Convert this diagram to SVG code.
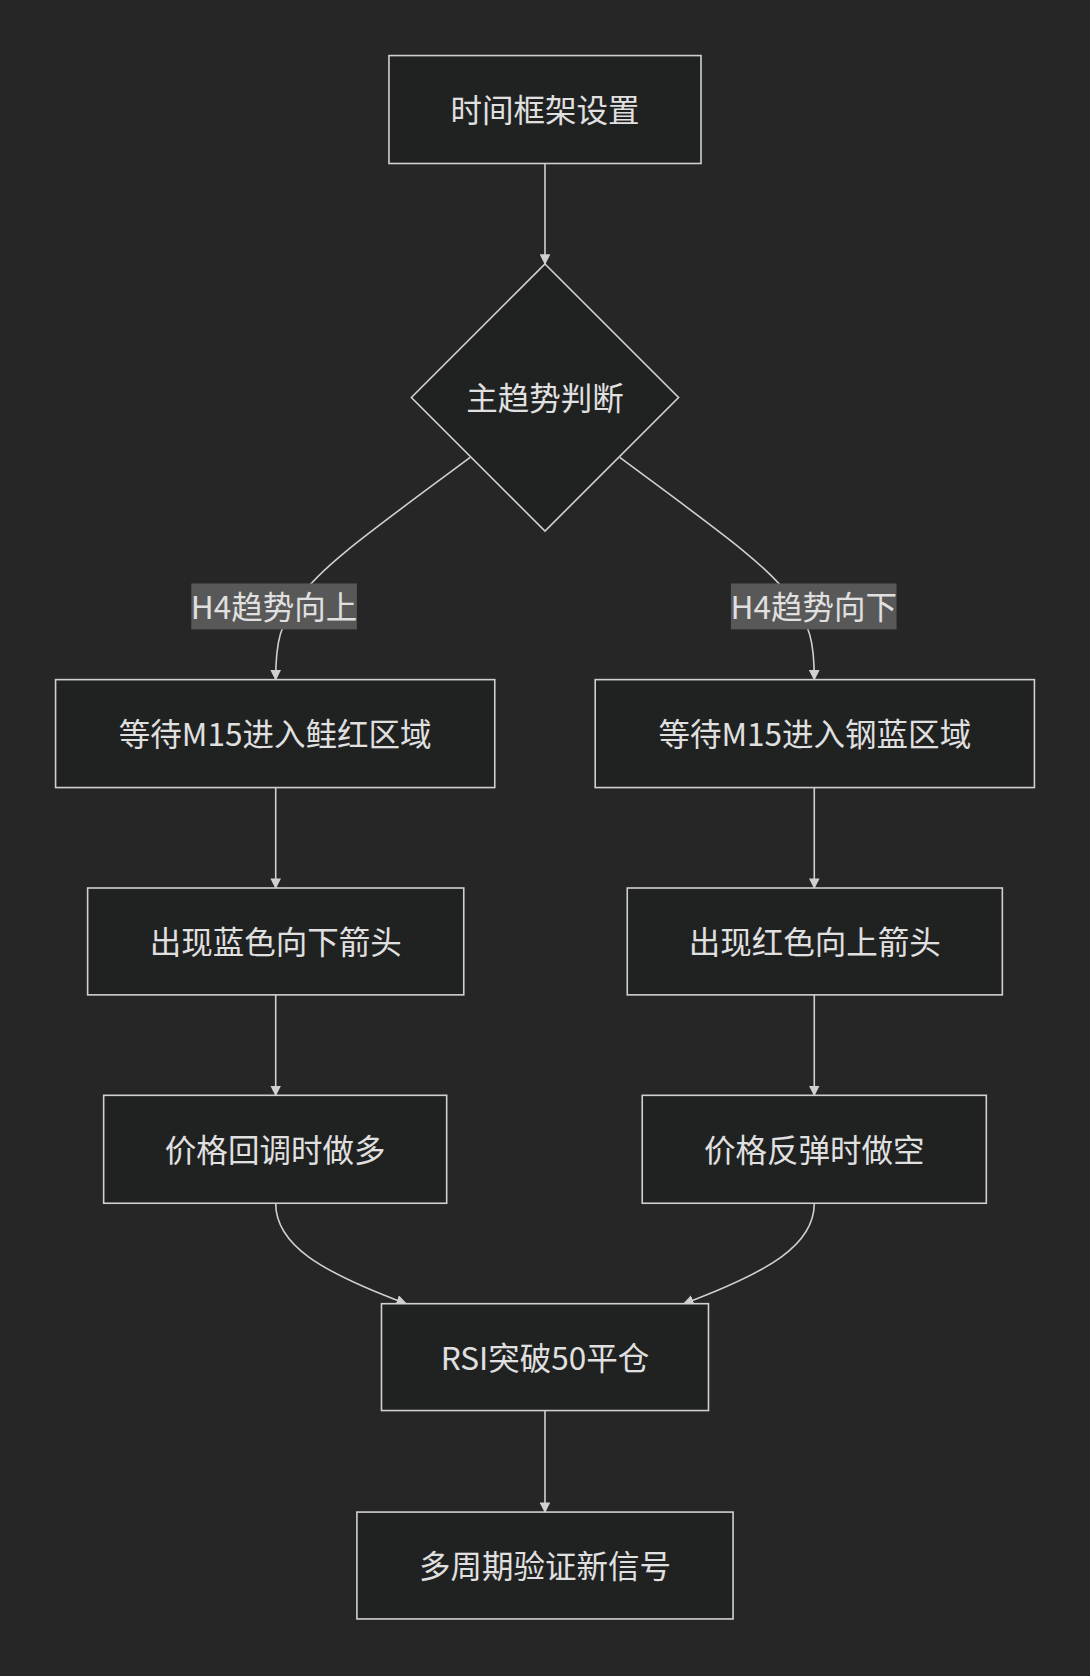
<svg xmlns="http://www.w3.org/2000/svg" width="1090" height="1676" viewBox="0 0 1090 1676">
<style>
.n{fill:#202222;stroke:#d0d0d0;stroke-width:1.5}
.t{fill:#e0e0e0;font-family:"Noto Sans CJK SC","Noto Sans",sans-serif;font-size:29.5px;text-anchor:middle;dominant-baseline:central}
.e{fill:none;stroke:#d0d0d0;stroke-width:1.5}
.lb{fill:#585858}
</style>
<defs><marker id="a" viewBox="0 0 10 10" refX="9" refY="5" markerWidth="10" markerHeight="10" markerUnits="userSpaceOnUse" orient="auto"><path d="M0,0L10,5L0,10z" fill="#d0d0d0"/></marker></defs>
<rect width="1090" height="1676" fill="#262626"/>
<g transform="scale(1.0686)">
<g id="edges">
<path class="e" d="M440,428C350,495 300,530 280,560C262,585 258,600 258,636" marker-end="url(#a)"/>
<path class="e" d="M580,428C670,495 720,530 740,560C758,585 762,600 762,636" marker-end="url(#a)"/>
<path class="e" d="M510,153L510,247" marker-end="url(#a)"/>
<path class="e" d="M258,737L258,831" marker-end="url(#a)"/>
<path class="e" d="M762,737L762,831" marker-end="url(#a)"/>
<path class="e" d="M258,931L258,1025" marker-end="url(#a)"/>
<path class="e" d="M762,931L762,1025" marker-end="url(#a)"/>
<path class="e" d="M258,1126C258,1165 300,1190 380,1220" marker-end="url(#a)"/>
<path class="e" d="M762,1126C762,1165 720,1190 640,1220" marker-end="url(#a)"/>
<path class="e" d="M510,1320L510,1415" marker-end="url(#a)"/>
</g>
<g id="l1"><rect class="lb" x="179" y="546" width="155" height="43"/><text class="t" x="256.5" y="566">H4趋势向上</text></g>
<g id="l2"><rect class="lb" x="684" y="546" width="155" height="43"/><text class="t" x="761.5" y="566">H4趋势向下</text></g>
<g id="n1"><rect class="n" x="364" y="52" width="292" height="101"/><text class="t" x="510" y="101">时间框架设置</text></g>
<g id="n2"><path class="n" d="M510,247L635,372L510,497L385,372Z"/><text class="t" x="510" y="371">主趋势判断</text></g>
<g id="n3"><rect class="n" x="52" y="636" width="411" height="101"/><text class="t" x="257.5" y="685">等待M15进入鲑红区域</text></g>
<g id="n4"><rect class="n" x="557" y="636" width="411" height="101"/><text class="t" x="762.5" y="685">等待M15进入钢蓝区域</text></g>
<g id="n5"><rect class="n" x="82" y="831" width="352" height="100"/><text class="t" x="258" y="880">出现蓝色向下箭头</text></g>
<g id="n6"><rect class="n" x="587" y="831" width="351" height="100"/><text class="t" x="762.5" y="880">出现红色向上箭头</text></g>
<g id="n7"><rect class="n" x="97" y="1025" width="321" height="101"/><text class="t" x="257.5" y="1074">价格回调时做多</text></g>
<g id="n8"><rect class="n" x="601" y="1025" width="322" height="101"/><text class="t" x="762" y="1074">价格反弹时做空</text></g>
<g id="n9"><rect class="n" x="357" y="1220" width="306" height="100"/><text class="t" x="510" y="1269">RSI突破50平仓</text></g>
<g id="n10"><rect class="n" x="334" y="1415" width="352" height="100"/><text class="t" x="510" y="1464">多周期验证新信号</text></g>
</g>
</svg>
